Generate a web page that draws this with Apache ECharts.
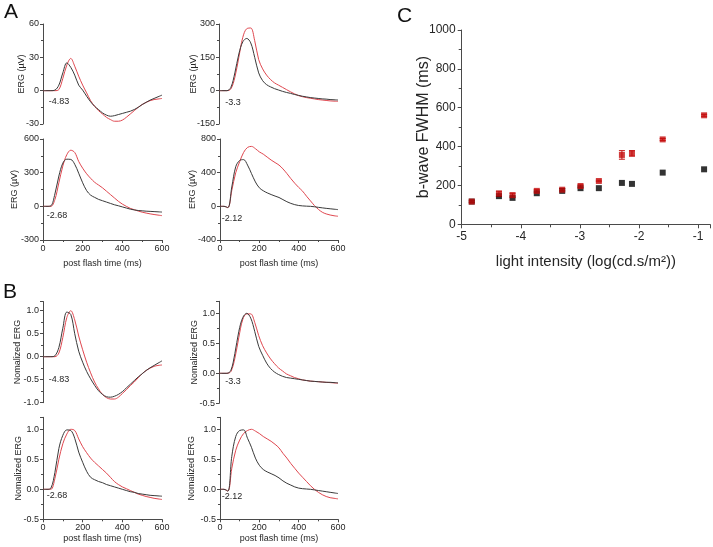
<!DOCTYPE html>
<html><head><meta charset="utf-8">
<script src="https://cdn.jsdelivr.net/npm/echarts/dist/echarts.min.js"></script>
<style>html,body{margin:0;padding:0;background:#fff}#c{width:713px;height:547px}</style>
</head><body><div id="c"></div>
<script>
// ---------- data ----------
const timeMs = [0,20,40,60,80,100,120,140,160,180,200,220,240,260,280,300,320,340,360,380,400,420,440,460,480,500,520,540,560,580,600];
const timeTicks = [0,200,400,600];

// Panel A: raw ERG (µV)
const ergA_483_black = [0,0,0,0.5,5,16,25,21,14,5, 0.5,-5,-10,-14,-17,-20,-22,-23,-22.5,-21.5, -20.5,-19.5,-18.5,-17,-15,-12.5,-10.5,-8.5,-7,-5.5, -4];
const ergA_483_red   = [0,0,0,0,1,11,23,29,22,13, 5,-2,-9,-14,-18,-21,-24,-26,-27.5,-27.5, -26.5,-24,-21,-18,-15,-12.5,-10.5,-9,-8,-7.5, -7];
const ergA_33_black  = [0,0,0,15,80,165,220,235,215,150, 80,45,27,17,9,3,-3,-8,-12,-17, -21,-25,-28,-31,-33,-35,-37,-38,-40,-41, -42];
const ergA_33_red    = [0,0,0,8,60,150,240,279,282,225, 140,98,70,50,35,25,15,5,-5,-14, -22,-27,-31,-34,-37,-40,-42,-44,-46,-47, -48];
const ergA_268_black = [0,0,5,110,270,385,420,418,375,295, 210,140,100,80,62,50,38,26,14,5, -5,-15,-25,-32,-37,-40,-43,-45,-47,-49, -51];
const ergA_268_red   = [0,0,0,60,210,360,460,500,480,400, 340,290,250,215,190,165,135,105,75,45, 20,0,-18,-30,-42,-52,-60,-67,-73,-78, -83];
const ergA_212_black = [0,0,-15,230,470,545,555,490,390,290, 220,185,160,140,122,105,80,55,35,20, 10,5,2,0,-5,-12,-18,-24,-29,-34, -39];
const ergA_212_red   = [0,0,-15,190,400,530,640,700,712,685, 647,620,585,550,520,490,445,390,330,275, 225,180,120,65,10,-35,-70,-90,-103,-112, -118];

// Panel B: normalized ERG
const ergB_483_black = [0,0,0,0.02,0.2,0.62,0.97,0.92,0.5,0.12, -0.12,-0.32,-0.48,-0.62,-0.74,-0.82,-0.87,-0.88,-0.86,-0.82, -0.76,-0.68,-0.6,-0.52,-0.44,-0.37,-0.3,-0.24,-0.19,-0.14, -0.09];
const ergB_483_red   = [0,0,0,0,0.08,0.42,0.85,1.0,0.8,0.45, 0.15,-0.12,-0.35,-0.55,-0.7,-0.82,-0.89,-0.92,-0.92,-0.88, -0.8,-0.72,-0.63,-0.55,-0.46,-0.37,-0.3,-0.25,-0.21,-0.19, -0.18];
const ergB_33_black  = [0,0,0,0.05,0.33,0.7,0.93,1.0,0.92,0.7, 0.45,0.3,0.17,0.08,0.02,-0.02,-0.05,-0.07,-0.08,-0.09, -0.1,-0.11,-0.12,-0.13,-0.135,-0.14,-0.145,-0.15,-0.15,-0.155, -0.16];
const ergB_33_red    = [0,0,0,0.03,0.25,0.6,0.9,0.99,0.99,0.85, 0.63,0.46,0.34,0.24,0.16,0.09,0.04,-0.01,-0.04,-0.07, -0.09,-0.11,-0.12,-0.13,-0.135,-0.14,-0.145,-0.15,-0.155,-0.16, -0.165];
const ergB_268_black = [0,0,0.02,0.28,0.68,0.9,0.99,0.98,0.85,0.62, 0.45,0.3,0.2,0.16,0.13,0.11,0.08,0.06,0.04,0.02, 0,-0.02,-0.04,-0.05,-0.07,-0.08,-0.09,-0.1,-0.105,-0.11, -0.115];
const ergB_268_red   = [0,0,0,0.18,0.5,0.76,0.92,1.0,0.98,0.84, 0.71,0.61,0.52,0.45,0.39,0.33,0.27,0.2,0.13,0.08, 0.04,0.01,-0.02,-0.05,-0.08,-0.1,-0.12,-0.135,-0.15,-0.16, -0.17];
const ergB_212_black = [0,0,-0.03,0.55,0.88,0.98,0.99,0.85,0.7,0.52, 0.4,0.33,0.29,0.26,0.23,0.19,0.14,0.1,0.07,0.04, 0.02,0.01,0.005,0,-0.01,-0.02,-0.03,-0.04,-0.05,-0.06, -0.07];
const ergB_212_red   = [0,0,-0.03,0.35,0.65,0.82,0.93,0.98,1.0,0.97, 0.93,0.88,0.84,0.8,0.75,0.69,0.6,0.52,0.43,0.35, 0.27,0.2,0.13,0.06,0,-0.05,-0.09,-0.12,-0.14,-0.15, -0.16];

// y tick labels
const ticksA_483 = [-30,0,30,60];
const ticksA_33  = [-150,0,150,300];
const ticksA_268 = [-300,0,300,600];
const ticksA_212 = [-400,0,400,800];
const ticksB_483 = [-1.0,-0.5,0.0,0.5,1.0];
const ticksB_rest = [-0.5,0.0,0.5,1.0];

// Panel C
const intensity  = [-4.83,-4.37,-4.14,-3.73,-3.3,-2.99,-2.68,-2.29,-2.12,-1.6,-0.9];
const fwhmRed    = [117,157,150,172,178,197,223,357,365,437,561];
const fwhmRedErr = [4,14,10,6,6,6,4,22,14,5,5];
const fwhmBlack  = [117,145,136,160,172,186,186,213,208,266,283];
const ticksCx = [-5,-4,-3,-2,-1];
const ticksCy = [0,200,400,600,800,1000];

// ---------- styling ----------
const FONT = '"Liberation Sans", Arial, sans-serif';
const AX = '#4a4a4a', TXT = '#262626';
const BLACK = '#3a3a3a', RED = '#e0474f', CRED = '#c40c0c';

const panels = [
 {left:43,  top:24,    w:119, h:100,   ticks:ticksA_483, ymax:60,  xShow:false, yName:'ERG (µV)', gap:16.5, dec:false, black:ergA_483_black, red:ergA_483_red, note:'-4.83', nx:59,  ny:102},
 {left:219, top:24,    w:119, h:100,   ticks:ticksA_33,  ymax:300, xShow:false, yName:'ERG (µV)', gap:20.5, dec:false, black:ergA_33_black,  red:ergA_33_red,  note:'-3.3',  nx:233, ny:103},
 {left:43,  top:139,   w:119, h:101,   ticks:ticksA_268, ymax:600, xShow:true,  xGap:18.8, yName:'ERG (µV)', gap:23.5, dec:false, black:ergA_268_black, red:ergA_268_red, note:'-2.68', nx:57, ny:216},
 {left:220, top:139,   w:118, h:101,   ticks:ticksA_212, ymax:800, xShow:true,  xGap:18.8, yName:'ERG (µV)', gap:23, dec:false, black:ergA_212_black, red:ergA_212_red, note:'-2.12', nx:232, ny:219},
 {left:43,  top:301.5, w:119, h:101.2, ticks:ticksB_483, ymax:1.2, xShow:false, yName:'Nomalized ERG', gap:21, dec:true, black:ergB_483_black, red:ergB_483_red, note:'-4.83', nx:59, ny:380},
 {left:219, top:301.3, w:119, h:102,   ticks:ticksB_rest, ymax:1.2, xShow:false, yName:'Nomalized ERG', gap:19.5, dec:true, black:ergB_33_black, red:ergB_33_red, note:'-3.3', nx:233, ny:382},
 {left:43,  top:417.3, w:119, h:102,   ticks:ticksB_rest, ymax:1.2, xShow:true, xGap:14.8, yName:'Nomalized ERG', gap:20, dec:true, black:ergB_268_black, red:ergB_268_red, note:'-2.68', nx:57, ny:496},
 {left:220, top:417.3, w:118, h:102,   ticks:ticksB_rest, ymax:1.2, xShow:true, xGap:14.8, yName:'Nomalized ERG', gap:24, dec:true, black:ergB_212_black, red:ergB_212_red, note:'-2.12', nx:232, ny:497}
];

const option = {
  animation:false, backgroundColor:'#fff',
  textStyle:{fontFamily:FONT},
  grid:[], xAxis:[], yAxis:[], series:[], graphic:[]
};

function isTick(list, v){ return list.some(t => Math.abs(t - v) < 1e-9); }

panels.forEach((p,i) => {
  option.grid.push({left:p.left, top:p.top, width:p.w, height:p.h});
  option.xAxis.push({
    type:'value', gridIndex:i, show:p.xShow,
    min:timeTicks[0], max:timeTicks[timeTicks.length-1], interval:timeTicks[1]-timeTicks[0],
    axisLine:{show:true, onZero:false, lineStyle:{color:AX, width:1}},
    axisTick:{show:true, length:3, lineStyle:{color:AX}},
    minorTick:{show:true, splitNumber:2, length:2, lineStyle:{color:AX}},
    splitLine:{show:false},
    axisLabel:{fontSize:9, color:TXT, margin:4, fontFamily:FONT},
    name: p.xShow ? 'post flash time (ms)' : '', nameLocation:'middle', nameGap:p.xGap || 18,
    nameMoveOverlap:false,
    nameTextStyle:{fontSize:9, color:TXT, fontFamily:FONT}
  });
  option.yAxis.push({
    type:'value', gridIndex:i,
    min:p.ticks[0], max:p.ymax, interval:p.ticks[1]-p.ticks[0],
    axisLine:{show:true, onZero:false, lineStyle:{color:AX, width:1}},
    axisTick:{show:true, length:3, lineStyle:{color:AX}},
    minorTick:{show:true, splitNumber:2, length:2, lineStyle:{color:AX}},
    splitLine:{show:false},
    axisLabel:{fontSize:9, color:TXT, margin:4, fontFamily:FONT,
      formatter: v => isTick(p.ticks, v) ? (p.dec ? v.toFixed(1) : String(v)) : ''},
    name:p.yName, nameLocation:'middle', nameRotate:90, nameGap:p.gap,
    nameMoveOverlap:false,
    nameTextStyle:{fontSize:9, color:TXT, fontFamily:FONT}
  });
  [[p.red, RED], [p.black, BLACK]].forEach(([arr, col]) => {
    option.series.push({
      type:'line', xAxisIndex:i, yAxisIndex:i, showSymbol:false, smooth:0.35,
      data: timeMs.map((t,j) => [t, arr[j]]),
      lineStyle:{color:col, width:1}, itemStyle:{color:col}, silent:true
    });
  });
  option.graphic.push({type:'text', x:p.nx, y:p.ny,
    style:{text:p.note, fill:TXT, font:'9px ' + FONT, align:'center', verticalAlign:'middle'}});
});

// Panel C
const ci = panels.length;
option.grid.push({left:461.7, top:30, width:253.7, height:194.3});
option.xAxis.push({
  type:'value', gridIndex:ci, min:ticksCx[0], max:-0.8, interval:1,
  axisLine:{show:true, onZero:false, lineStyle:{color:AX}},
  axisTick:{show:true, length:4, lineStyle:{color:AX}},
  minorTick:{show:true, splitNumber:2, length:3, lineStyle:{color:AX}},
  splitLine:{show:false},
  axisLabel:{fontSize:12, color:TXT, margin:6, fontFamily:FONT,
    formatter: v => isTick(ticksCx, v) ? String(v) : ''},
  name:'light intensity (log(cd.s/m²))', nameLocation:'middle', nameGap:30,
  nameMoveOverlap:false,
  nameTextStyle:{fontSize:15, color:TXT, fontFamily:FONT}
});
option.yAxis.push({
  type:'value', gridIndex:ci, min:ticksCy[0], max:ticksCy[ticksCy.length-1], interval:ticksCy[1]-ticksCy[0],
  axisLine:{show:true, onZero:false, lineStyle:{color:AX}},
  axisTick:{show:true, length:4, lineStyle:{color:AX}},
  minorTick:{show:true, splitNumber:2, length:3, lineStyle:{color:AX}},
  splitLine:{show:false},
  axisLabel:{fontSize:12, color:TXT, margin:6, fontFamily:FONT, formatter: v => String(v)},
  name:'b-wave FWHM (ms)', nameLocation:'middle', nameRotate:90, nameGap:30,
  nameMoveOverlap:false,
  nameTextStyle:{fontSize:16, color:TXT, fontFamily:FONT}
});
option.series.push({
  type:'custom', xAxisIndex:ci, yAxisIndex:ci, z:1,
  encode:{x:0, y:[1,2]},
  data: intensity.map((x,i) => [x, fwhmRed[i]-fwhmRedErr[i], fwhmRed[i]+fwhmRedErr[i]]),
  renderItem: function(params, api){
    const x = api.value(0);
    const a = api.coord([x, api.value(1)]), b = api.coord([x, api.value(2)]);
    const w = 3, st = {stroke:CRED, lineWidth:1};
    return {type:'group', children:[
      {type:'line', shape:{x1:a[0], y1:a[1], x2:b[0], y2:b[1]}, style:st},
      {type:'line', shape:{x1:a[0]-w, y1:a[1], x2:a[0]+w, y2:a[1]}, style:st},
      {type:'line', shape:{x1:b[0]-w, y1:b[1], x2:b[0]+w, y2:b[1]}, style:st}
    ]};
  }
});
option.series.push({
  type:'scatter', xAxisIndex:ci, yAxisIndex:ci, symbol:'rect', symbolSize:6, z:3,
  itemStyle:{color:'#000'}, data: intensity.map((x,i) => [x, fwhmBlack[i]])
});
option.series.push({
  type:'scatter', xAxisIndex:ci, yAxisIndex:ci, symbol:'rect', symbolSize:6, z:4,
  itemStyle:{color:CRED}, data: intensity.map((x,i) => [x, fwhmRed[i]])
});

// panel letters
[['A',4,12],['B',3,292],['C',397,16]].forEach(([t,x,y]) => {
  option.graphic.push({type:'text', x:x, y:y,
    style:{text:t, fill:'#111', font:'21px ' + FONT, align:'left', verticalAlign:'middle'}});
});

const chart = echarts.init(document.getElementById('c'), null, {renderer:'canvas'});
chart.setOption(option);
</script>
</body></html>
